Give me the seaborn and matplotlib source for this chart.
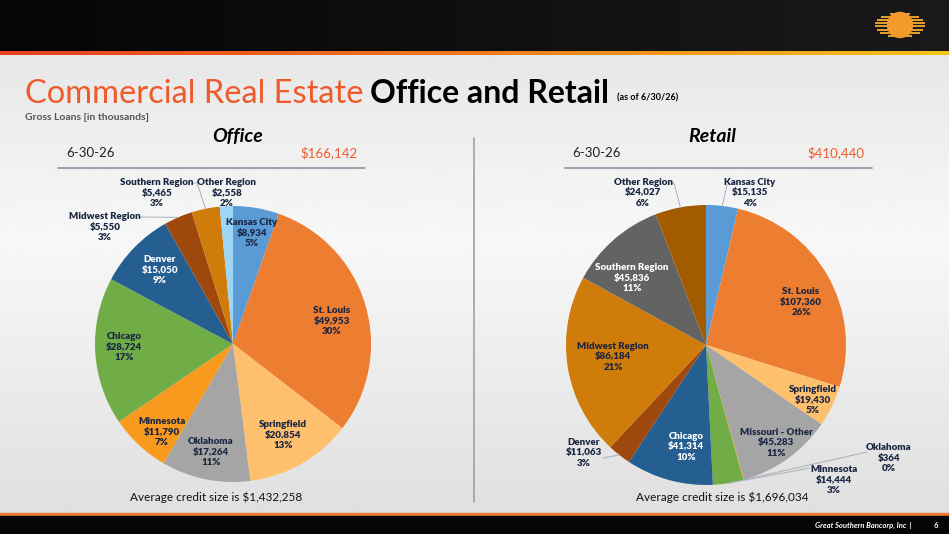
import numpy as np
import matplotlib
matplotlib.use("Agg")
import matplotlib.pyplot as plt
import seaborn as sns

# --- données ---
office_regions = ["Kansas City", "St. Louis", "Springfield", "Oklahoma", "Minnesota",
                  "Chicago", "Denver", "Midwest Region", "Southern Region", "Other Region"]
office_loans = [8934, 49953, 20854, 17264, 11790, 28724, 15050, 5550, 5465, 2558]
office_pct = [5, 30, 13, 11, 7, 17, 9, 3, 3, 2]
office_total = "$166,142"
office_avg = "$1,432,258"

retail_regions = ["Kansas City", "St. Louis", "Springfield", "Missouri - Other", "Oklahoma",
                  "Minnesota", "Chicago", "Denver", "Midwest Region", "Southern Region", "Other Region"]
retail_loans = [15135, 107360, 19430, 45283, 364, 14444, 41314, 11063, 86184, 45836, 24027]
retail_pct = [4, 26, 5, 11, 0, 3, 10, 3, 21, 11, 6]
retail_total = "$410,440"
retail_avg = "$1,696,034"

as_of = "6-30-26"

# --- style ---
sns.set_theme(style="white")
plt.rcParams['font.family'] = ['Lato', 'DejaVu Sans']

office_colors = sns.color_palette(["#5B9BD5", "#ED7D31", "#FFC06E", "#A5A5A5", "#F79A1E",
                                   "#70AD47", "#255E91", "#9E480E", "#D07C0A", "#9DD5F5"])
retail_colors = sns.color_palette(["#5B9BD5", "#ED7D31", "#FFC06E", "#A5A5A5", "#F79A1E",
                                   "#70AD47", "#255E91", "#9E480E", "#D07C0A", "#636363", "#A35B00"])
NAVY = "#1a2642"
ORANGE = "#EE5A2A"

# positions des étiquettes (pixels relatifs au centre, y vers le bas)
office_label_pos = [(19, -111), (99, -23), (50, 91), (-22, 108), (-71, 88), (-109, 3),
                    (-73, -74), (-128, -117), (-76, -151), (-6, -151)]
office_white = [6]
office_leaders = {7: [(-93, -127)], 8: [(-41, -161), (-36, -161)]}

retail_label_pos = [(44, -152), (95, -43), (107, 55), (70, 98), (183, 113), (128, 135),
                    (-20, 102), (-122, 108), (-93, 12), (-74, -67), (-63, -152)]
retail_white = [6, 9]
retail_leaders = {0: [(21, -160)], 4: [(161, 107)], 5: [(104, 123)], 7: [(-103, 113)],
                  10: [(-36, -162), (-32, -162)]}

W, H = 949, 534
fig = plt.figure(figsize=(W / 100, H / 100), dpi=100)

# fond
bg = fig.add_axes([0, 0, 1, 1])
bg.set_xlim(0, W)
bg.set_ylim(H, 0)
bg.axis("off")
yy = np.linspace(0, 1, 200)[:, None]
grad = 0.97 - 0.10 * np.abs(yy - 0.45) / 0.55
grad = np.repeat(grad, 10, axis=1)
bg.imshow(grad, cmap="gray", vmin=0, vmax=1, extent=(0, W, H, 0), aspect="auto", zorder=0)

# bandeau haut
top = np.linspace(0.02, 0.10, 100)[None, :]
bg.imshow(np.repeat(top, 5, axis=0), cmap="gray", vmin=0, vmax=1,
          extent=(0, W, 52, 0), aspect="auto", zorder=1)
stripe = np.linspace(0, 1, 200)[None, :]
cm_stripe = matplotlib.colors.LinearSegmentedColormap.from_list("s", ["#E8401C", "#F07A1E", "#F5C21A"])
bg.imshow(stripe, cmap=cm_stripe, extent=(0, W, 55, 51.5), aspect="auto", zorder=2)
# logo
for k in range(8):
    yk = 13.5 + k * 3.2
    half = 25 * np.sqrt(max(0, 1 - ((yk - 25) / 12.5) ** 2))
    bg.plot([900 - half, 900 + half], [yk, yk], color="#E8A030", lw=1.4, zorder=3,
            solid_capstyle="butt")
bg.add_patch(matplotlib.patches.Circle((900, 25), 12.5, color="#F39A2C", zorder=4))

# bandeau bas
bg.add_patch(matplotlib.patches.Rectangle((0, 512.5), W, 3, color="#F07A2E", zorder=2))
bg.add_patch(matplotlib.patches.Rectangle((0, 515.5), W, H - 515.5, color="#050505", zorder=2))
bg.text(912, 525, "Great Southern Bancorp, Inc  |", color="white", fontsize=5.5,
        fontweight="bold", style="italic", ha="right", va="center", zorder=5)
bg.text(936, 525, "6", color="white", fontsize=5.5, fontweight="bold",
        ha="center", va="center", zorder=5)

# titre
fig.canvas.draw()
rend = fig.canvas.get_renderer()
t1 = bg.text(25, 103, "Commercial Real Estate", color=ORANGE, fontsize=23.5,
             va="baseline", zorder=5)
x1 = t1.get_window_extent(rend).x1 + 7
t2 = bg.text(x1, 103, "Office and Retail", color="black", fontsize=23, fontweight="bold",
             va="baseline", zorder=5)
x2 = t2.get_window_extent(rend).x1 + 8
bg.text(x2, 100, "(as of 6/30/26)", color="black", fontsize=6.5, fontweight="bold",
        va="baseline", zorder=5)
bg.text(25, 117, "Gross Loans [in thousands]", color="#555555", fontsize=7.5,
        fontweight="bold", va="center", zorder=5)

# séparateur central
bg.plot([474, 474], [138, 502], color="#9aa3ab", lw=1.2, zorder=3)

# en-têtes des panneaux
for cx_title, x_left, x_right, line_l, line_r, title, total in [
        (238, 66, 358, 58, 365, "Office", office_total),
        (712, 572, 864, 565, 872, "Retail", retail_total)]:
    bg.text(cx_title, 137, title, fontsize=14, fontweight="bold", style="italic",
            ha="center", va="center", color="black", zorder=5)
    bg.text(x_left, 153, as_of, fontsize=9.5, ha="left", va="center", color="#222222", zorder=5)
    bg.text(x_right, 153, total, fontsize=9.5, ha="right", va="center", color=ORANGE, zorder=5)
    bg.plot([line_l, line_r], [168, 168], color="#8494a4", lw=1.2, zorder=3)

bg.text(216, 497, "Average credit size is " + office_avg, fontsize=8.5, ha="center",
        va="center", color="#111111", zorder=5)
bg.text(722, 497, "Average credit size is " + retail_avg, fontsize=8.5, ha="center",
        va="center", color="#111111", zorder=5)


def draw_pie(cx, cy, R, regions, loans, pct, colors, label_pos, white_idx, leaders):
    S = 210
    ax = fig.add_axes([(cx - S) / W, 1 - (cy + S) / H, 2 * S / W, 2 * S / H])
    ax.axis("off")
    ax.patch.set_alpha(0)
    ax.pie(loans, colors=colors, startangle=90, counterclock=False, radius=R,
           wedgeprops=dict(linewidth=0))
    ax.set_xlim(-S, S)
    ax.set_ylim(-S, S)
    frac = np.array(loans) / np.sum(loans)
    start = np.concatenate([[0], np.cumsum(frac)[:-1]])
    mids = np.deg2rad(90 - 360 * (start + frac / 2))
    for i, name in enumerate(regions):
        dx, dy = label_pos[i]
        col = "white" if i in white_idx else NAVY
        ax.text(dx, -dy, f"{name}\n${loans[i]:,}\n{pct[i]}%", ha="center", va="center",
                fontsize=7, fontweight="heavy", color=col, linespacing=1.2, zorder=5)
        if i in leaders:
            pts = [(p[0], -p[1]) for p in leaders[i]]
            pts.append((R * np.cos(mids[i]), R * np.sin(mids[i])))
            xs, ys = zip(*pts)
            ax.plot(xs, ys, color="#a7b0b8", lw=0.7, zorder=4)


draw_pie(233, 344, 138, office_regions, office_loans, office_pct, office_colors,
         office_label_pos, office_white, office_leaders)
draw_pie(706, 345, 140, retail_regions, retail_loans, retail_pct, retail_colors,
         retail_label_pos, retail_white, retail_leaders)

fig.savefig("out.png", dpi=100)
